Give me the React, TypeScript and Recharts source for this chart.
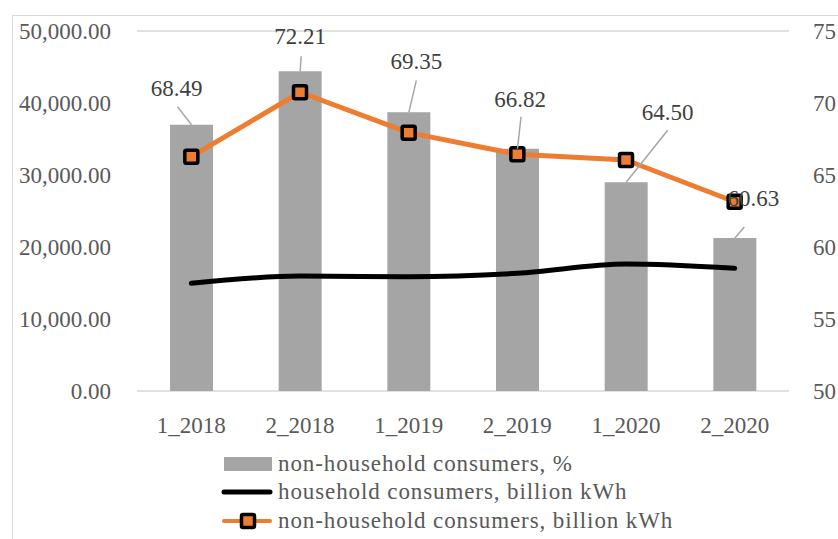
import React from 'react';
import { ComposedChart, Bar, Line, XAxis, YAxis, CartesianGrid } from 'recharts';

const categories = ['1_2018', '2_2018', '1_2019', '2_2019', '1_2020', '2_2020'];
const nonHouseholdPct = [68.49, 72.21, 69.35, 66.82, 64.5, 60.63];
const householdKwh = [14960, 15970, 15880, 16350, 17640, 17040];
const nonHouseholdKwh = [32540, 41490, 35880, 32870, 32080, 26290];

const leftTicks = [0, 10000, 20000, 30000, 40000, 50000];
const rightTicks = [50, 55, 60, 65, 70, 75];

const seriesNames = [
  'non-household consumers, %',
  'household consumers, billion kWh',
  'non-household consumers, billion kWh',
];

const data = categories.map((name, i) => ({
  name,
  pct: nonHouseholdPct[i],
  household: householdKwh[i],
  nonHousehold: nonHouseholdKwh[i],
}));

// manual label placement (label centre relative to bar top centre), like the source chart
const LABEL_OFFSETS = [[-15, -37], [0, -35], [7.5, -51], [2.5, -50], [41.5, -70], [18.5, -40]];
const LEADER_ENDS = [[1, 19], [1, 20], [0, 19], [1, 18], [0, 18], [-9, 29]];

const FONT = '"Liberation Serif", "Times New Roman", serif';
const GRAY_TEXT = '#595959';
const ORANGE = '#ED7D31';
const BAR_GRAY = '#A5A5A5';

const axisTick = { fill: GRAY_TEXT, fontSize: 23, fontFamily: FONT };

const fmt = (v: number) =>
  v.toLocaleString('en-US', { minimumFractionDigits: 2, maximumFractionDigits: 2 });

const BarLabel = (props: any) => {
  const { x, y, width, index, value } = props;
  const cx = x + width / 2;
  const [dx, dy] = LABEL_OFFSETS[index];
  const [lx, ly] = LEADER_ENDS[index];
  const tx = cx + dx;
  const ty = y + dy;
  return (
    <g>
      <line x1={cx} y1={y} x2={tx + lx} y2={ty + ly} stroke="#A6A6A6" strokeWidth={1.5} />
      <text x={tx} y={ty} dy="0.34em" textAnchor="middle" fill="#404040" fontSize={23} fontFamily={FONT}>
        {Number(value).toFixed(2)}
      </text>
    </g>
  );
};

const SquareDot = (props: any) => {
  const { cx, cy } = props;
  if (cx == null || cy == null) return null;
  return (
    <rect x={cx - 6.5} y={cy - 6.5} width={13} height={13} rx={1.5} fill={ORANGE} stroke="#000" strokeWidth={3.5} />
  );
};

const legendText: React.CSSProperties = {
  position: 'absolute',
  left: 278,
  fontFamily: FONT,
  fontSize: 23,
  letterSpacing: 0.9,
  color: GRAY_TEXT,
  lineHeight: '28px',
  whiteSpace: 'nowrap',
};

const App: React.FC = () => {
  return (
    <div style={{ position: 'fixed', left: 0, top: 0, width: 838, height: 539, overflow: 'hidden', background: '#fff' }}>
      <div
        style={{
          position: 'absolute',
          left: 12,
          top: 15,
          width: 900,
          height: 600,
          borderLeft: '1.5px solid #D9D9D9',
          borderTop: '1.5px solid #D9D9D9',
        }}
      />
      <div style={{ position: 'absolute', left: 0, top: 0 }}>
        <ComposedChart width={838} height={539} data={data} margin={{ top: 31, right: 0, bottom: 118, left: 0 }}>
          <CartesianGrid vertical={false} stroke="#D9D9D9" strokeWidth={1.5} />
          <XAxis
            dataKey="name"
            axisLine={false}
            tickLine={false}
            tickMargin={20}
            tick={axisTick}
            height={30}
          />
          <YAxis
            yAxisId="left"
            orientation="left"
            width={137}
            domain={[0, 50000]}
            ticks={leftTicks}
            axisLine={false}
            tickLine={false}
            tickMargin={20}
            tick={axisTick}
            tickFormatter={fmt}
          />
          <YAxis
            yAxisId="right"
            orientation="right"
            width={49}
            domain={[50, 75]}
            ticks={rightTicks}
            axisLine={false}
            tickLine={false}
            tickMargin={18}
            tick={{ ...axisTick, textAnchor: 'start' }}
          />
          <Bar
            yAxisId="right"
            dataKey="pct"
            name={seriesNames[0]}
            fill={BAR_GRAY}
            barSize={43}
            isAnimationActive={false}
            label={BarLabel}
          />
          <Line
            yAxisId="left"
            type="monotone"
            dataKey="household"
            name={seriesNames[1]}
            stroke="#000"
            strokeWidth={5}
            strokeLinecap="round"
            strokeLinejoin="round"
            dot={false}
            activeDot={false}
            isAnimationActive={false}
          />
          <Line
            yAxisId="left"
            type="linear"
            dataKey="nonHousehold"
            name={seriesNames[2]}
            stroke={ORANGE}
            strokeWidth={5}
            strokeLinejoin="round"
            dot={<SquareDot />}
            activeDot={false}
            isAnimationActive={false}
          />
        </ComposedChart>
      </div>

      {/* Legend */}
      <svg style={{ position: 'absolute', left: 0, top: 0 }} width={838} height={539} pointerEvents="none">
        <rect x={224} y={457} width={48} height={14} fill={BAR_GRAY} />
        <line x1={224} y1={492} x2={270} y2={492} stroke="#000" strokeWidth={5} strokeLinecap="round" />
        <line x1={224} y1={521} x2={270} y2={521} stroke={ORANGE} strokeWidth={4} strokeLinecap="round" />
        <rect x={241.5} y={514.5} width={13} height={13} rx={1.5} fill={ORANGE} stroke="#000" strokeWidth={3.5} />
      </svg>
      <div style={{ ...legendText, top: 450 }}>{seriesNames[0]}</div>
      <div style={{ ...legendText, top: 478 }}>{seriesNames[1]}</div>
      <div style={{ ...legendText, top: 507 }}>{seriesNames[2]}</div>
    </div>
  );
};

export default App;
